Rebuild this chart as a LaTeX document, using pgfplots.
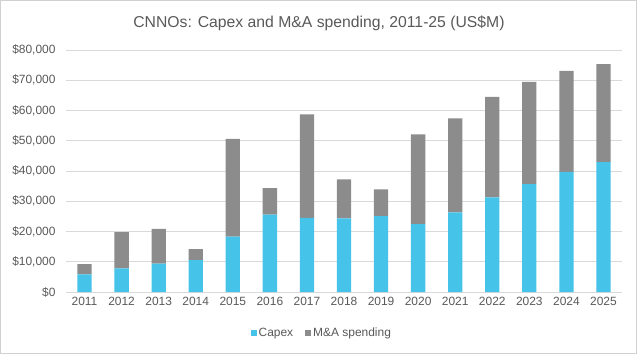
\documentclass[border=0pt]{standalone}
\usepackage{pgfplots}
\pgfplotsset{compat=1.18}
\usepackage{fontspec}
\setmainfont{Liberation Sans}
\definecolor{capex}{HTML}{45C3E8}
\definecolor{ma}{HTML}{8C8C8C}
\definecolor{txt}{HTML}{595959}
\definecolor{gridc}{HTML}{D9D9D9}
\pgfplotstableread{
x capex ma
0 5800 3400
1 7800 12000
2 9400 11500
3 10500 3700
4 18300 32300
5 25600 8700
6 24500 34200
7 24300 12900
8 25100 8800
9 22400 29700
10 26300 31100
11 31300 33200
12 35700 33800
13 39700 33400
14 42900 32400
}\datatable
\begin{document}
\begin{tikzpicture}[x=1bp,y=1bp]
\useasboundingbox (0,0) rectangle (637,354);
\draw[color=black!18, line width=1bp] (0.5,0.5) rectangle (636.5,353.5);
\node[text=txt, font=\fontsize{15.8}{18}\selectfont] at (319,331) {CNNOs: Capex and M\&A spending, 2011-25 (US\$M)};
\begin{axis}[at={(66bp,62bp)}, anchor=south west, scale only axis,
  width=556bp, height=242bp,
  ybar stacked, bar width=14.3bp,
  xmin=-0.5, xmax=14.5, ymin=0, ymax=80000,
  scaled y ticks=false,
  xtick={0,...,14},
  xticklabels={2011,2012,2013,2014,2015,2016,2017,2018,2019,2020,2021,2022,2023,2024,2025},
  ytick={0,10000,...,80000},
  yticklabels={\$0,{\$10,000},{\$20,000},{\$30,000},{\$40,000},{\$50,000},{\$60,000},{\$70,000},{\$80,000}},
  ymajorgrids, grid style={gridc, line width=0.9bp},
  axis line style={draw=none},
  major tick length=0pt,
  tick label style={text=txt, font=\fontsize{12}{14}\selectfont},
  yticklabel style={xshift=-7bp},
  xticklabel style={yshift=-2bp},
  legend style={at={(axis description cs:0.46,-0.17)}, anchor=center, draw=none,
    legend columns=2, font=\fontsize{12}{14}\selectfont, text=txt,
    /tikz/every even column/.append style={column sep=10bp},
    legend cell align=left},
  legend image code/.code={\fill[#1] (0bp,-3bp) rectangle (6bp,3bp);},
]
\addplot[fill=capex, draw=none] table[x=x, y=capex] {\datatable};
\addplot[fill=ma, draw=none] table[x=x, y=ma] {\datatable};
\legend{Capex, M\&A spending}
\end{axis}
\end{tikzpicture}
\end{document}
